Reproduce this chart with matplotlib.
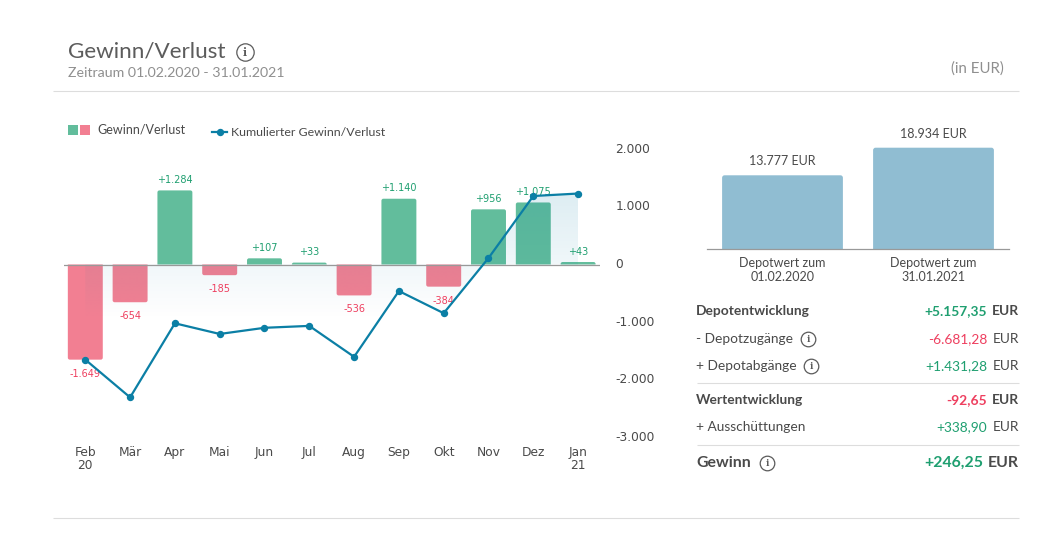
"""Gewinn/Verlust Übersicht: Monatsbalken, kumulierte Linie, Depotwert und Tabelle."""
import numpy as np
import matplotlib
matplotlib.use("Agg")
import matplotlib.pyplot as plt
from matplotlib.path import Path
from matplotlib.patches import PathPatch, Rectangle
from matplotlib.transforms import ScaledTranslation

W, H = 1042, 534

months = ["Feb\n20", "Mär", "Apr", "Mai", "Jun", "Jul", "Aug", "Sep", "Okt", "Nov", "Dez", "Jan\n21"]
monthly = [-1649, -654, 1284, -185, 107, 33, -536, 1140, -384, 956, 1075, 43]
monthly_labels = ["-1.649", "-654", "+1.284", "-185", "+107", "+33", "-536", "+1.140", "-384", "+956", "+1.075", "+43"]
cumulative = [-1649, -2303, -1019, -1204, -1097, -1064, -1600, -460, -844, 112, 1187, 1230]
y_ticks = [2000, 1000, 0, -1000, -2000, -3000]
y_tick_labels = ["2.000", "1.000", "0", "-1.000", "-2.000", "-3.000"]

depot_labels = ["Depotwert zum\n01.02.2020", "Depotwert zum\n31.01.2021"]
depot_values = [13777, 18934]
depot_value_labels = ["13.777 EUR", "18.934 EUR"]

table_names = ["Depotentwicklung", "- Depotzugänge", "+ Depotabgänge", "Wertentwicklung", "+ Ausschüttungen", "Gewinn"]
table_values = ["+5.157,35", "-6.681,28", "+1.431,28", "-92,65", "+338,90", "+246,25"]

GREEN = "#62bd9c"
RED = "#f27f92"
BLUE = "#0b7fa5"
DEPOT = "#90bdd2"
TXT_GREEN = "#1f9f70"
TXT_RED = "#ee3f5f"
GREY = "#4a4a4a"
LIGHT = "#8f8f8f"
RULE = "#dddddd"
FONT = "Lato"
TICK_FONT = "DejaVu Sans"


def axes_px(fig, left, top, right, bottom):
    return fig.add_axes([left / W, 1 - bottom / H, (right - left) / W, (bottom - top) / H])


def rounded_bar(ax, x, width, height, color, radius_px, px_x, px_y, zorder=2):
    """Balken von 0 bis height, nur die äusseren Ecken sind abgerundet."""
    rx = radius_px / px_x
    ry = min(radius_px / px_y, abs(height))
    ry = ry if height > 0 else -ry
    x0, x1 = x - width / 2, x + width / 2
    verts = [(x0, 0), (x0, height - ry), (x0, height), (x0 + rx, height),
             (x1 - rx, height), (x1, height), (x1, height - ry), (x1, 0), (x0, 0)]
    codes = [Path.MOVETO, Path.LINETO, Path.CURVE3, Path.CURVE3,
             Path.LINETO, Path.CURVE3, Path.CURVE3, Path.LINETO, Path.CLOSEPOLY]
    ax.add_patch(PathPatch(Path(verts, codes), facecolor=color, edgecolor="none", zorder=zorder))


def info_icon(ax, x, y, size, color="#5a5a5a"):
    ax.scatter([x], [y], s=size ** 2, facecolor="white", edgecolor=color, linewidth=0.9, zorder=5)
    ax.text(x, y + 0.3, "i", ha="center", va="center", fontsize=size * 0.62, fontweight="bold",
            family="DejaVu Serif", color=color, zorder=6)


def main():
    fig = plt.figure(figsize=(W / 100, H / 100), dpi=100, facecolor="white")

    # Hauptdiagramm
    ax = axes_px(fig, 64, 140, 600, 445)
    px_x, px_y = 44.8, 0.0577
    x = np.arange(len(months))
    xlim = ((64 - 85.3) / px_x, (600 - 85.3) / px_x)
    ylim = ((264.5 - 445) / px_y, (264.5 - 140) / px_y)

    for i, v in enumerate(monthly):
        rounded_bar(ax, i, 0.78, v, GREEN if v > 0 else RED, 2, px_x, px_y)
        off = 7.5 if v > 0 else -10
        ax.annotate(monthly_labels[i], (i, v), xytext=(0, off), textcoords="offset points",
                    ha="center", va="center", fontsize=7, family=TICK_FONT,
                    color=TXT_GREEN if v > 0 else TXT_RED, zorder=3)

    # Fläche zwischen Linie und Nulllinie, mit Verlauf nach unten
    area = ax.fill_between(x, cumulative, 0, color="none", linewidth=0)
    grad = np.zeros((256, 1, 4))
    grad[..., :3] = matplotlib.colors.to_rgb(BLUE)
    grad[:, 0, 3] = np.interp(np.linspace(0, 1, 256), [0, 0.35, 0.62, 1], [0.14, 0.06, 0.0, 0.0])
    img = ax.imshow(grad, extent=[x[0], x[-1], min(cumulative), max(cumulative)], aspect="auto",
                    origin="upper", zorder=2.5, interpolation="bilinear")
    img.set_clip_path(area.get_paths()[0], transform=ax.transData)
    ax.set_xlim(*xlim)
    ax.set_ylim(*ylim)

    ax.axhline(0, color="#999999", lw=0.9, zorder=3)
    ax.plot(x, cumulative, color=BLUE, lw=1.6, marker="o", ms=4.3, zorder=4)

    ax.set_xticks(x)
    ax.set_xticklabels(months, fontsize=8.8, family=TICK_FONT, color=GREY, linespacing=1.05)
    ax.yaxis.tick_right()
    ax.set_yticks(y_ticks)
    ax.set_yticklabels(y_tick_labels, fontsize=8.8, family=TICK_FONT, color=GREY)
    ax.tick_params(axis="y", length=0, pad=11)
    ax.tick_params(axis="x", length=0, pad=0.7)
    up = ScaledTranslation(0, 1.1 / 72, fig.dpi_scale_trans)
    for lab in ax.get_yticklabels():
        lab.set_transform(lab.get_transform() + up)
    for s in ax.spines.values():
        s.set_visible(False)
    ax.patch.set_alpha(0)

    # Depotwert rechts oben
    ax2 = axes_px(fig, 707, 120, 1009, 249)
    px2 = 151.0
    ax2.set_xlim((707 - 782.5) / px2, (1009 - 782.5) / px2)
    scale = 0.00535
    ax2.set_ylim(0, 129 / scale)
    for i, v in enumerate(depot_values):
        rounded_bar(ax2, i, 0.80, v, DEPOT, 2.5, px2, scale)
        ax2.annotate(depot_value_labels[i], (i, v), xytext=(0, 10), textcoords="offset points",
                     ha="center", va="center", fontsize=9, family=FONT, color=GREY, clip_on=False)
    ax2.set_xticks([0, 1])
    ax2.set_xticklabels(depot_labels, fontsize=9, family=FONT, color=GREY, linespacing=1.2)
    ax2.tick_params(axis="x", length=0, pad=6)
    ax2.set_yticks([])
    for name, s in ax2.spines.items():
        s.set_visible(name == "bottom")
    ax2.spines["bottom"].set_color("#999999")
    ax2.spines["bottom"].set_linewidth(0.9)
    ax2.patch.set_alpha(0)

    # Überlagerung in Pixelkoordinaten für Kopf, Legende und Tabelle
    o = fig.add_axes([0, 0, 1, 1], zorder=10)
    o.set_xlim(0, W)
    o.set_ylim(H, 0)
    o.axis("off")

    o.text(68, 51, "Gewinn/Verlust", fontsize=16.2, family=FONT, color="#5c5c5c", va="center")
    info_icon(o, 245, 52, 12.5)
    o.text(68, 73, "Zeitraum 01.02.2020 - 31.01.2021", fontsize=10.2, family=FONT, color=LIGHT, va="center")
    o.text(1004, 69, "(in EUR)", fontsize=10.8, family=FONT, color=LIGHT, va="center", ha="right")

    for y, x0 in [(91, 53), (518, 53), (383, 697), (445, 697)]:
        o.plot([x0, 1018.5], [y, y], color=RULE, lw=0.8, solid_capstyle="butt")

    o.add_patch(Rectangle((68, 125), 10, 10, facecolor=GREEN, edgecolor="none"))
    o.add_patch(Rectangle((80, 125), 10, 10, facecolor=RED, edgecolor="none"))
    o.text(97, 130, "Gewinn/Verlust", fontsize=9, family=FONT, color=GREY, va="center")
    o.plot([212, 227], [131.5, 131.5], color=BLUE, lw=1.6)
    o.plot([219.5], [131.5], color=BLUE, marker="o", ms=4.3)
    o.text(231, 132, "Kumulierter Gewinn/Verlust", fontsize=8.9, family=FONT, color=GREY, va="center")

    rows_y = [311, 339, 366, 400, 427, 463]
    bold = [True, False, False, True, False, True]
    colors = [TXT_GREEN, TXT_RED, TXT_GREEN, TXT_RED, TXT_GREEN, TXT_GREEN]
    for i, name in enumerate(table_names):
        big = i == 5
        fs = 11.4 if big else 9.9
        weight = "bold" if bold[i] else "normal"
        o.text(696, rows_y[i], name, fontsize=fs, family=FONT, fontweight=weight, color=GREY, va="center")
        o.text(1019, rows_y[i], "EUR", fontsize=fs, family=FONT, fontweight=weight, color=GREY, va="center", ha="right")
        o.text(983 if big else 987, rows_y[i], table_values[i], fontsize=fs, family=FONT, fontweight=weight,
               color=colors[i], va="center", ha="right")
    info_icon(o, 808, 339, 10.5)
    info_icon(o, 811, 366, 10.5)
    info_icon(o, 767, 463, 10.5)

    fig.savefig("out.png", dpi=100)


if __name__ == "__main__":
    main()
